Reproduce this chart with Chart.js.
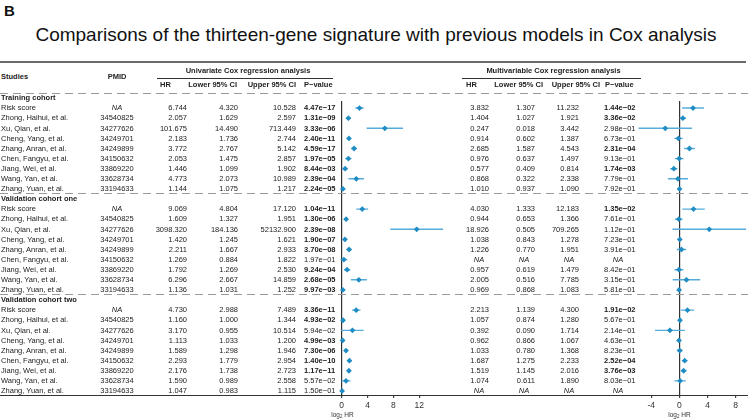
<!DOCTYPE html>
<html><head><meta charset="utf-8">
<script src="https://cdn.jsdelivr.net/npm/chart.js@4"></script>
<style>
html,body{margin:0;padding:0;background:#fff;}
#fig{position:relative;width:752px;height:420px;overflow:hidden;font-family:"Liberation Sans",Arial,Helvetica,sans-serif;color:#222;}
.t{position:absolute;white-space:nowrap;}
.panel{position:absolute;}
</style></head><body>
<div id="fig">
<div class="t" style="left:4px;top:3px;font-size:15px;line-height:15px;font-weight:bold;color:#111">B</div>
<div class="t" style="left:0;width:752px;text-align:center;top:25px;font-size:19px;line-height:19px;color:#111">Comparisons of the thirteen-gene signature with previous models in Cox analysis</div>
<div class="panel" style="left:325px;top:96px;width:130px;height:324px"><canvas id="k1"></canvas></div>
<div class="panel" style="left:628px;top:96px;width:124px;height:324px"><canvas id="k2"></canvas></div>
</div>
<script>
// ---------- data ----------
const cohorts = ["Training cohort", "Validation cohort one", "Validation cohort two"];
const studies = ["Risk score", "Zhong, Haihui, et al.", "Xu, Qian, et al.", "Cheng, Yang, et al.", "Zhang, Anran, et al.", "Chen, Fangyu, et al.", "Jiang, Wei, et al.", "Wang, Yan, et al.", "Zhang, Yuan, et al."];
const pmids = [null, "34540825", "34277626", "34249701", "34249899", "34150632", "33869220", "33628734", "33194633"];
const uniTicks = [0, 4, 8, 12];
const multiTicks = [-4, 0, 4, 8];

// Univariate - training
const uniTrainHR = [6.744, 2.057, 101.675, 2.183, 3.772, 2.053, 1.446, 4.773, 1.144];
const uniTrainLo = [4.320, 1.629, 14.490, 1.736, 2.767, 1.475, 1.099, 2.073, 1.075];
const uniTrainHi = [10.528, 2.597, 713.449, 2.744, 5.142, 2.857, 1.902, 10.989, 1.217];
const uniTrainP  = [4.47e-17, 1.31e-09, 3.33e-06, 2.40e-11, 4.59e-17, 1.97e-05, 8.44e-03, 2.39e-04, 2.24e-05];
// Univariate - validation one
const uniVal1HR = [9.069, 1.609, 3098.320, 1.420, 2.211, 1.269, 1.792, 6.296, 1.136];
const uniVal1Lo = [4.804, 1.327, 184.136, 1.245, 1.667, 0.884, 1.269, 2.667, 1.031];
const uniVal1Hi = [17.120, 1.951, 52132.900, 1.621, 2.933, 1.822, 2.530, 14.859, 1.252];
const uniVal1P  = [1.04e-11, 1.30e-06, 2.39e-08, 1.90e-07, 3.70e-08, 1.97e-01, 9.24e-04, 2.68e-05, 9.97e-03];
// Univariate - validation two
const uniVal2HR = [4.730, 1.160, 3.170, 1.113, 1.589, 2.293, 2.176, 1.590, 1.047];
const uniVal2Lo = [2.988, 1.000, 0.955, 1.033, 1.298, 1.779, 1.738, 0.989, 0.983];
const uniVal2Hi = [7.489, 1.344, 10.514, 1.200, 1.946, 2.954, 2.723, 2.558, 1.115];
const uniVal2P  = [3.36e-11, 4.93e-02, 5.94e-02, 4.99e-03, 7.30e-06, 1.40e-10, 1.17e-11, 5.57e-02, 1.50e-01];

// Multivariable - training
const mulTrainHR = [3.832, 1.404, 0.247, 0.914, 2.685, 0.976, 0.577, 0.868, 1.010];
const mulTrainLo = [1.307, 1.027, 0.018, 0.602, 1.587, 0.637, 0.409, 0.322, 0.937];
const mulTrainHi = [11.232, 1.921, 3.442, 1.387, 4.543, 1.497, 0.814, 2.338, 1.090];
const mulTrainP  = [1.44e-02, 3.36e-02, 2.98e-01, 6.73e-01, 2.31e-04, 9.13e-01, 1.74e-03, 7.79e-01, 7.92e-01];
// Multivariable - validation one
const mulVal1HR = [4.030, 0.944, 18.926, 1.038, 1.226, null, 0.957, 2.005, 0.969];
const mulVal1Lo = [1.333, 0.653, 0.505, 0.843, 0.770, null, 0.619, 0.516, 0.868];
const mulVal1Hi = [12.183, 1.366, 709.265, 1.278, 1.951, null, 1.479, 7.785, 1.083];
const mulVal1P  = [1.35e-02, 7.61e-01, 1.12e-01, 7.23e-01, 3.91e-01, null, 8.42e-01, 3.15e-01, 5.81e-01];
// Multivariable - validation two
const mulVal2HR = [2.213, 1.057, 0.392, 0.962, 1.033, 1.687, 1.519, 1.074, null];
const mulVal2Lo = [1.139, 0.874, 0.090, 0.866, 0.780, 1.275, 1.145, 0.611, null];
const mulVal2Hi = [4.300, 1.280, 1.714, 1.067, 1.368, 2.233, 2.016, 1.890, null];
const mulVal2P  = [1.91e-02, 5.67e-01, 2.14e-01, 4.63e-01, 8.23e-01, 2.52e-04, 3.76e-03, 8.03e-01, null];

const uniHR = [uniTrainHR, uniVal1HR, uniVal2HR], uniLo = [uniTrainLo, uniVal1Lo, uniVal2Lo], uniHi = [uniTrainHi, uniVal1Hi, uniVal2Hi], uniP = [uniTrainP, uniVal1P, uniVal2P];
const mulHR = [mulTrainHR, mulVal1HR, mulVal2HR], mulLo = [mulTrainLo, mulVal1Lo, mulVal2Lo], mulHi = [mulTrainHi, mulVal1Hi, mulVal2Hi], mulP = [mulTrainP, mulVal1P, mulVal2P];

// ---------- layout ----------
const FONT = '"Liberation Sans", Arial, Helvetica, sans-serif';
const FS = 7.5;
const fig = document.getElementById('fig');
const rowY = r => 98 + 10.1 * r;

function txt(s, x, y, align, o) {
  o = o || {};
  const d = document.createElement('div');
  d.className = 't';
  if (o.html) d.innerHTML = s; else d.textContent = s;
  const fs = o.fs || FS;
  d.style.fontSize = fs + 'px';
  d.style.lineHeight = fs + 'px';
  d.style.top = (y - fs / 2) + 'px';
  if (align === 'l') d.style.left = x + 'px';
  else if (align === 'r') d.style.right = (752 - x) + 'px';
  else { d.style.left = (x - 80) + 'px'; d.style.width = '160px'; d.style.textAlign = 'center'; }
  if (o.bold) d.style.fontWeight = 'bold';
  if (o.italic) d.style.fontStyle = 'italic';
  if (o.color) d.style.color = o.color;
  fig.appendChild(d);
}
function hline(x1, x2, y, h, color, dashed) {
  const d = document.createElement('div');
  d.style.position = 'absolute';
  d.style.left = x1 + 'px'; d.style.width = (x2 - x1) + 'px';
  d.style.top = (y - h / 2) + 'px'; d.style.height = h + 'px';
  d.style.background = dashed ? `repeating-linear-gradient(to right, ${color} 0 8px, transparent 8px 13px)` : color;
  fig.appendChild(d);
}
const fmtN = v => v.toFixed(3);
const fmtP = v => v.toExponential(2).replace(/e-(\d)$/, 'e-0$1').replace('-', '\u2212');

// rules
hline(0, 746, 62, 1.6, '#6a6a6a');
hline(157, 333, 78, 1, '#333');
hline(462, 641, 78, 1, '#333');
[93, rowY(10) - 5.5, rowY(20) - 5.5].forEach(y => hline(0, 748, y, 1, '#9a9a9a', true));
hline(0, 748, 395, 1, '#333');

// headers
txt('Studies', 1, 77, 'l', {bold: true});
txt('PMID', 117, 77, 'c', {bold: true});
txt('Univariate Cox regression analysis', 248, 71, 'c', {bold: true});
txt('Multivariable Cox regression analysis', 553.5, 71, 'c', {bold: true});
const uniCols = {hr: 187, lo: 238, hi: 296, p: 304, hrH: 165.5, loH: 237, hiH: 296, pH: 304};
const mulCols = {hr: 489, lo: 535, hi: 579, p: 604, hrH: 471.5, loH: 543, hiH: 600, pH: 605, naHr: 479, naLo: 524, naHi: 569, naP: 618};
[uniCols, mulCols].forEach(c => {
  txt('HR', c.hrH, 85, 'c', {bold: true});
  txt('Lower 95% CI', c.loH, 85, 'r', {bold: true});
  txt('Upper 95% CI', c.hiH, 85, 'r', {bold: true});
  txt('P\u2212value', c.pH, 85, 'l', {bold: true});
});

// rows
cohorts.forEach((name, c) => {
  txt(name, 1, rowY(c * 10), 'l', {bold: true});
  studies.forEach((s, i) => {
    const y = rowY(c * 10 + 1 + i);
    txt(s, 1, y, 'l');
    if (pmids[i]) txt(pmids[i], 117, y, 'c'); else txt('NA', 117, y, 'c', {italic: true});
    [[uniHR, uniLo, uniHi, uniP, uniCols], [mulHR, mulLo, mulHi, mulP, mulCols]].forEach(([H, L, U, P, col]) => {
      const hr = H[c][i];
      if (hr == null) {
        txt('NA', col.naHr, y, 'c', {italic: true});
        txt('NA', col.naLo, y, 'c', {italic: true});
        txt('NA', col.naHi, y, 'c', {italic: true});
        txt('NA', col.naP, y, 'c', {italic: true});
        return;
      }
      txt(fmtN(hr), col.hr, y, 'r');
      txt(fmtN(L[c][i]), col.lo, y, 'r');
      txt(fmtN(U[c][i]), col.hi, y, 'r');
      const p = P[c][i];
      txt(fmtP(p), col.p, y, 'l', {bold: p < 0.05});
    });
  });
});

txt('log<sub style="font-size:4.5px;vertical-align:-1px">2</sub> HR', 342.5, 415, 'c', {html: true, fs: 6.5, color: '#333'});
txt('log<sub style="font-size:4.5px;vertical-align:-1px">2</sub> HR', 679.4, 415, 'c', {html: true, fs: 6.5, color: '#333'});

// ---------- charts ----------
const PT = '#1f8cc4', CI = '#55acdc';
function panel(id, H, L, U, xmin, xmax, ticks, padL, padR) {
  const pts = [];
  const ds = [];
  H.forEach((arr, c) => arr.forEach((hr, i) => {
    if (hr == null) return;
    const r = c * 10 + 1 + i;
    pts.push({x: Math.log2(hr), y: r});
  }));
  ds.push({data: pts, pointStyle: 'rectRot', pointRadius: 2.9, backgroundColor: PT, borderColor: PT, borderWidth: 0, showLine: false});
  L.forEach((arr, c) => arr.forEach((lo, i) => {
    if (lo == null) return;
    const r = c * 10 + 1 + i;
    ds.push({data: [{x: Math.log2(lo), y: r}, {x: Math.log2(U[c][i]), y: r}], showLine: true, borderColor: CI, borderWidth: 1.4, pointRadius: 0});
  }));
  new Chart(document.getElementById(id), {
    type: 'scatter',
    data: {datasets: ds},
    options: {
      responsive: true, maintainAspectRatio: false, animation: false, events: [],
      layout: {padding: {left: padL, right: padR, top: 5, bottom: 0}},
      plugins: {legend: {display: false}, tooltip: {enabled: false}},
      scales: {
        x: {
          type: 'linear', min: xmin, max: xmax,
          afterBuildTicks: s => { s.ticks = ticks.map(v => ({value: v})); },
          afterFit: s => { s.height = 25; },
          grid: {color: ctx => (ctx.tick && ctx.tick.value === 0) ? '#333' : 'rgba(0,0,0,0)', lineWidth: 1.2, tickColor: '#444', tickLength: 3},
          border: {display: false},
          ticks: {font: {size: 8.5, family: FONT}, color: '#333', padding: 3, maxRotation: 0, autoSkip: false},
          title: {display: false}
        },
        y: {type: 'linear', min: 0.3, max: 29.4, reverse: true, display: false}
      }
    }
  });
}
panel('k1', uniHR, uniLo, uniHi, -1, 15.8, uniTicks, 10.2, 11.1);
panel('k2', mulHR, mulLo, mulHi, -6, 9.7, multiTicks, 9.2, 4.4);
</script>
</body></html>
